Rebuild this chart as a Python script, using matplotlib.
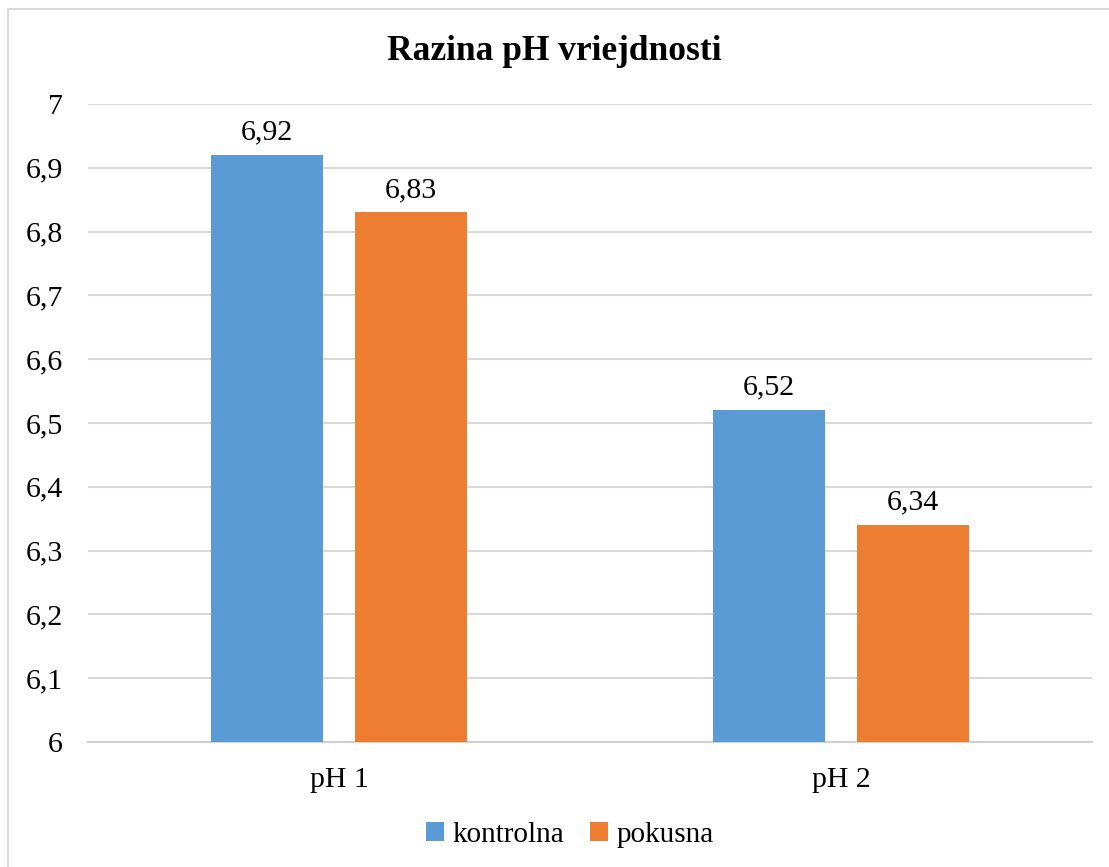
import numpy as np
import matplotlib.pyplot as plt
from matplotlib.patches import Rectangle

categories = ['pH 1', 'pH 2']
series = ['kontrolna', 'pokusna']
kontrolna = [6.92, 6.52]
pokusna = [6.83, 6.34]
labels_k = ['6,92', '6,52']
labels_p = ['6,83', '6,34']
yticks = [6, 6.1, 6.2, 6.3, 6.4, 6.5, 6.6, 6.7, 6.8, 6.9, 7]
ytick_labels = ['6', '6,1', '6,2', '6,3', '6,4', '6,5', '6,6', '6,7', '6,8', '6,9', '7']

blue = '#5b9bd5'
orange = '#ed7d31'

plt.rcParams['font.family'] = ['Liberation Serif', 'DejaVu Serif']

fig = plt.figure(figsize=(11.09, 8.67), dpi=100)
# chart border (top/left visible, rest runs off the image)
fig.patches.append(Rectangle((8 / 1109, -0.05), 1.2, 1 - 9 / 867 + 0.05,
                             transform=fig.transFigure, fill=False,
                             edgecolor='#d9d9d9', linewidth=1.5))

ax = fig.add_axes([88 / 1109, 1 - 742 / 867, 1004 / 1109, (742 - 104) / 867])

x = np.arange(len(categories))
w = 0.222
off = 0.143
b1 = ax.bar(x - off, np.array(kontrolna) - 6, w, bottom=6, color=blue, label=series[0], zorder=3)
b2 = ax.bar(x + off, np.array(pokusna) - 6, w, bottom=6, color=orange, label=series[1], zorder=3)

fs = 21.5
for xi, v, t in zip(x - off, kontrolna, labels_k):
    ax.text(xi, v + 0.015, t, ha='center', va='bottom', fontsize=fs)
for xi, v, t in zip(x + off, pokusna, labels_p):
    ax.text(xi, v + 0.015, t, ha='center', va='bottom', fontsize=fs)

ax.set_xlim(-0.5, 1.5)
ax.set_ylim(6, 7)
ax.set_yticks(yticks)
ax.set_yticklabels(ytick_labels, fontsize=fs)
ax.set_xticks(x)
ax.set_xticklabels(categories, fontsize=fs)
ax.tick_params(axis='y', length=0, pad=18)
ax.tick_params(axis='x', length=0, pad=18)
ax.grid(axis='y', color='#d9d9d9', linewidth=1.5, zorder=0)
for s in ['top', 'right', 'left']:
    ax.spines[s].set_visible(False)
ax.spines['bottom'].set_color('#d0d0d0')
ax.spines['bottom'].set_linewidth(1.5)

fig.text(0.5, 1 - 52 / 867, 'Razina pH vriejdnosti', ha='center', va='center',
         fontsize=25.5, fontweight='bold')

fig.legend(handles=[b1, b2], labels=series, loc='center', bbox_to_anchor=(570 / 1109, 1 - 835 / 867),
           ncol=2, frameon=False, fontsize=21, handlelength=0.6, handleheight=0.6,
           handletextpad=0.3, columnspacing=0.9)

fig.savefig('out.png', dpi=100)
